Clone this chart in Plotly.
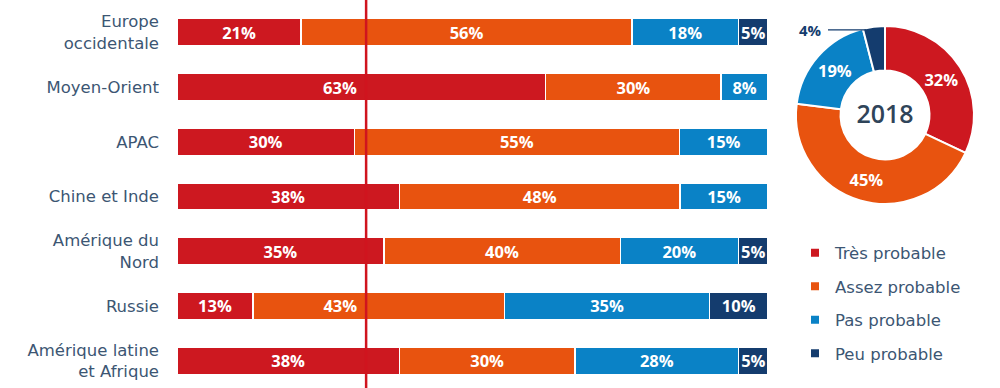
import plotly.graph_objects as go

regions = ["Europe<br>occidentale", "Moyen-Orient", "APAC", "Chine et Inde",
           "Amérique du<br>Nord", "Russie", "Amérique latine<br>et Afrique"]
series_names = ["Très probable", "Assez probable", "Pas probable", "Peu probable"]
tres = [21, 63, 30, 38, 35, 13, 38]
assez = [56, 30, 55, 48, 40, 43, 30]
pas = [18, 8, 15, 15, 20, 35, 28]
peu = [5, None, None, None, 5, 10, 5]
donut_values = [32, 45, 19, 4]
donut_year = "2018"
marker_line_x = 32

colors = ["#cd1820", "#e8530f", "#0a82c6", "#143c6e"]
label_color = "#3c5673"
font_family = "'DejaVu Sans', sans-serif"
bold_family = "'Open Sans', sans-serif"

all_series = [tres, assez, pas, peu]
PLOT_PX = 591  # plot width in px, used only to keep labels clear of the red line
NBSP_PX = 4.3


def labels_for(idx):
    out = []
    for r in range(len(regions)):
        row = [s[r] or 0 for s in all_series]
        total = sum(row)
        v = all_series[idx][r]
        if not v:
            out.append("")
            continue
        start = sum(row[:idx]) / total * 100
        end = start + v / total * 100
        center = (start + end) / 2
        txt = f"{v}%"
        if abs(center - marker_line_x) < 4:
            # shift label left of the vertical red line by padding on the right
            shift_px = (center - marker_line_x) / 100 * PLOT_PX + 18 + 8
            n = max(0, int(round(2 * shift_px / NBSP_PX)))
            txt = txt + "\u00a0" * n
        out.append(txt)
    return out


fig = go.Figure()
for i, (name, vals, col) in enumerate(zip(series_names, all_series, colors)):
    fig.add_trace(go.Bar(
        y=regions, x=vals, orientation="h", name=name,
        marker=dict(color=col, line=dict(color="white", width=1.5)),
        text=labels_for(i),
        textposition="inside", insidetextanchor="middle",
        textfont=dict(color="white", size=16.5, family=bold_family, weight="bold"),
        constraintext="none",
        showlegend=False, hoverinfo="skip",
    ))

# legend entries
for i, (name, col) in enumerate(zip(series_names, colors)):
    fig.add_trace(go.Scatter(
        x=[None], y=[None], mode="markers", name=name, legendgroup=f"g{i}",
        marker=dict(symbol="square", size=8, color=col),
    ))

fig.add_trace(go.Pie(
    values=donut_values, labels=series_names, hole=0.5, sort=False,
    direction="clockwise", rotation=0,
    marker=dict(colors=colors, line=dict(color="white", width=2)),
    texttemplate=["%{value}%", "%{value}%", "%{value}%", ""],
    textposition="inside", insidetextorientation="horizontal",
    textfont=dict(color="white", size=16.5, family=bold_family, weight="bold"),
    domain=dict(x=[0.796, 0.974], y=[0.478, 0.948]),
    title=dict(text=donut_year, position="middle center",
               font=dict(size=25, color="#2f4459", family=bold_family, weight=600)),
    showlegend=False, hoverinfo="skip",
))

fig.add_annotation(
    text=f"{donut_values[3]}%", xref="paper", yref="paper",
    x=0.866, y=0.935, ax=-42, ay=0, showarrow=True, arrowhead=0,
    arrowwidth=1.2, arrowcolor="#143c6e", xanchor="right",
    font=dict(size=15, color="#143c6e", family=bold_family, weight="bold"),
    standoff=0, startstandoff=4,
)

fig.add_shape(type="line", xref="x", yref="paper", x0=marker_line_x, x1=marker_line_x,
              y0=-0.05, y1=1.05, line=dict(color="#d0141e", width=2.5), layer="above")

fig.update_layout(
    barmode="stack", barnorm="percent", bargap=0.5,
    width=1000, height=388,
    margin=dict(l=0, r=0, t=5, b=0, autoexpand=False),
    paper_bgcolor="white", plot_bgcolor="white",
    font=dict(family=font_family, color=label_color),
    xaxis=dict(domain=[0.177, 0.768], range=[0, 100], visible=False, fixedrange=True),
    yaxis=dict(autorange="reversed", showgrid=False, zeroline=False, showline=False,
               ticks="", ticklabelstandoff=17, automargin=False, fixedrange=True,
               tickfont=dict(size=16.5, color=label_color, family=font_family)),
    legend=dict(x=0.795, y=0.398, xanchor="left", yanchor="top",
                font=dict(size=16.5, color=label_color, family=font_family),
                tracegroupgap=9, itemwidth=30, bgcolor="rgba(0,0,0,0)"),
    showlegend=True,
)

fig.write_html("out.html", config={"displayModeBar": False},
               post_script="document.body.style.margin='0';")
